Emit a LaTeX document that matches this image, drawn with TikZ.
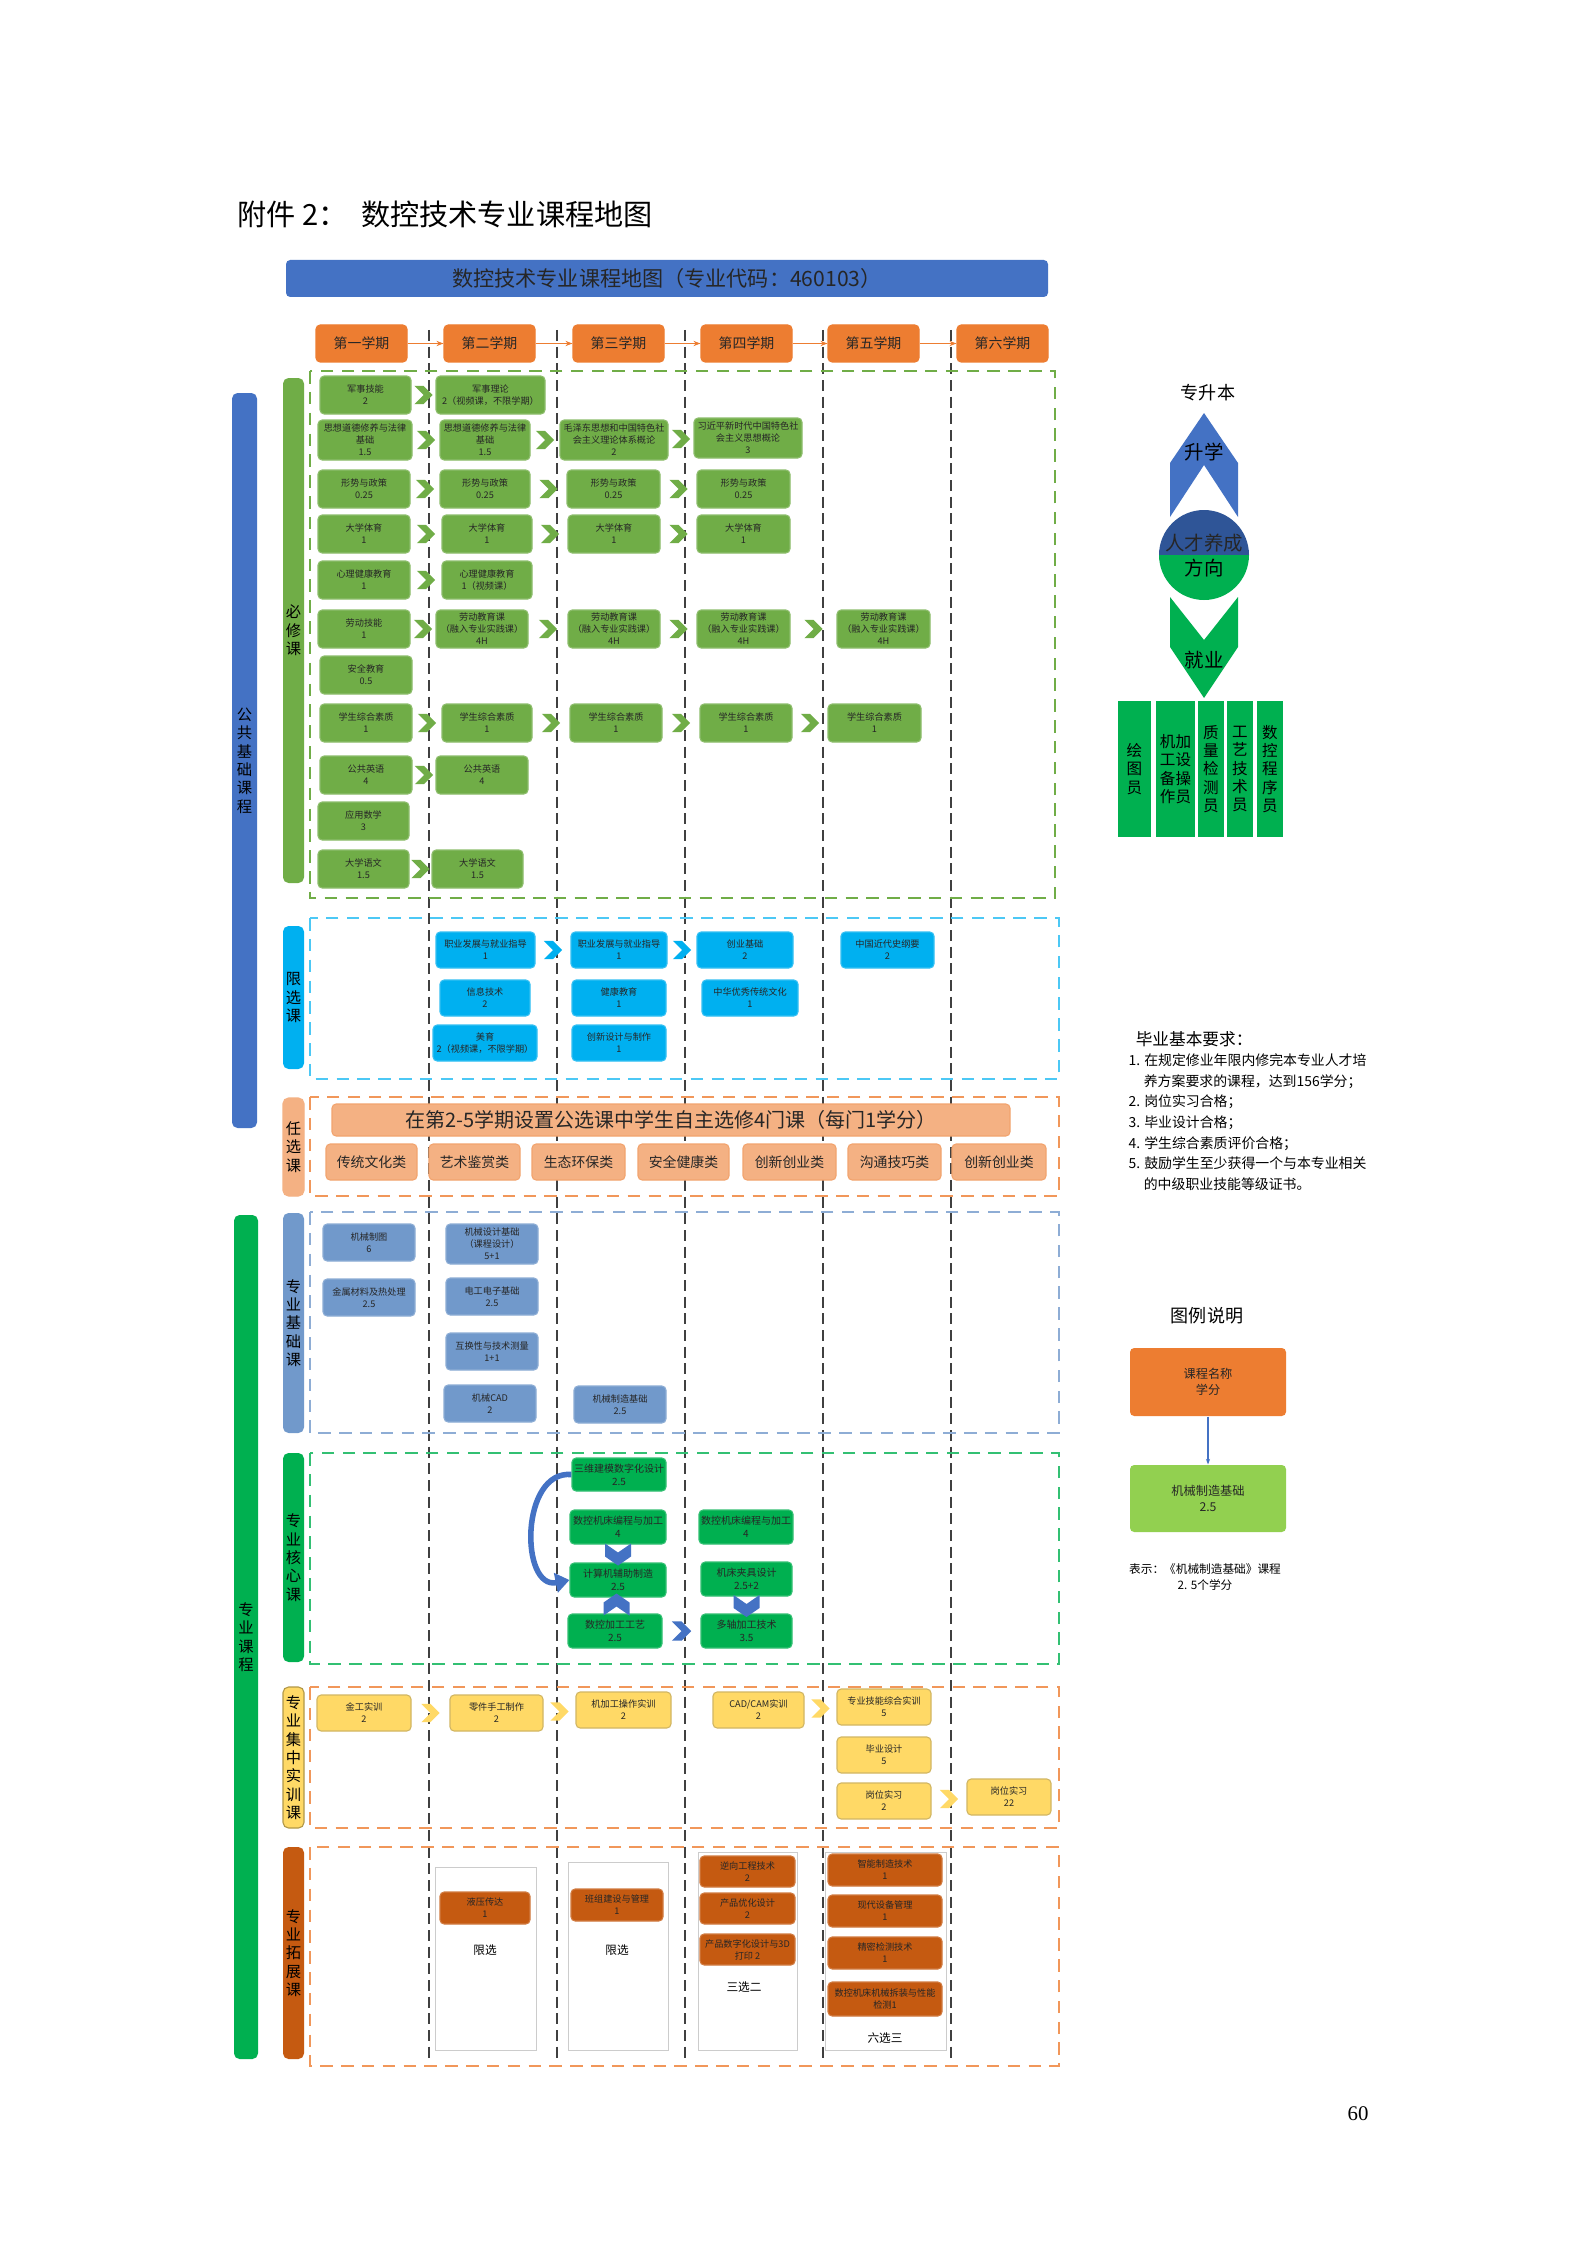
\documentclass[tikz,border=0pt]{standalone}
\usepackage{fontspec}
\setmainfont{Noto Sans CJK SC}
\newfontfamily\serif{Liberation Serif}
\usetikzlibrary{shapes.symbols,calc,arrows.meta}
\definecolor{gA}{HTML}{70AD47}
\definecolor{bA}{HTML}{00B0F0}
\definecolor{sA}{HTML}{7199CB}
\definecolor{cA}{HTML}{00B050}
\definecolor{yA}{HTML}{FFD966}
\definecolor{brA}{HTML}{C55A11}
\definecolor{saA}{HTML}{F4B183}
\definecolor{oA}{HTML}{ED7D31}
\definecolor{blA}{HTML}{4472C4}
\definecolor{lgA}{HTML}{92D050}
\definecolor{dbA}{HTML}{2F5597}
\newcommand\bx[7]{\node[#6, minimum width={(#4-#2)*0.36pt}, minimum height={(#5-#3)*0.36pt}] (#1) at ({(#2+#4)/2},{(#3+#5)/2}) {#7};}
\newcommand\chv[4]{\node[chevr, fill=#4] (#1) at ($(#2.east)!0.5!(#3.west)$) {};}
\tikzset{
 cbox/.style={rounded corners=1.5pt, inner sep=0pt, align=center, font=\fontsize{3.3}{4.3}\selectfont, text=black!85},
 gbox/.style={cbox, fill=gA, draw=gA!80!white},
 bbox/.style={cbox, fill=bA, draw=bA!80!white},
 sbox/.style={cbox, fill=sA, draw=sA!80!white},
 kbox/.style={cbox, fill=cA, draw=cA!80!white, font=\fontsize{3.6}{4.6}\selectfont},
 ybox/.style={cbox, fill=yA, draw=yA!80!black!90},
 rbox/.style={cbox, fill=brA, draw=brA!80!white},
 pbox/.style={cbox, fill=saA, draw=oA!70, font=\fontsize{5}{6}\selectfont},
 hbox/.style={cbox, fill=oA, draw=oA, font=\fontsize{5}{6}\selectfont},
 chevr/.style={signal, signal to=east, signal from=west, minimum width=5pt, minimum height=6.5pt, inner sep=0pt, draw=none},
 secbox/.style={dash pattern=on 4.5pt off 3pt, line width=0.6pt},
 vline/.style={dash pattern=on 4pt off 2pt, line width=0.6pt, black!75},
 catbar/.style={rounded corners=2pt, inner sep=0pt, align=center, font=\fontsize{5.5}{6.6}\selectfont},
 coreArr/.style={line width=2pt, blA, -{Triangle[length=5pt,width=7pt]}},
 jobbox/.style={fill=cA, inner sep=0pt, align=center, font=\fontsize{5.6}{6.6}\selectfont},
}
\begin{document}
\begin{tikzpicture}[x=0.36pt,y=-0.36pt]
\useasboundingbox[fill=white] (0,0) rectangle (1587,2245);
% title
\node[anchor=west, font=\fontsize{10.5}{12}\selectfont] (title) at (228,214) {附件 2：\ \ 数控技术专业课程地图};
\bx{banner}{286}{260}{1048}{297}{cbox, fill=blA, font=\fontsize{7.6}{9}\selectfont, text=black!85}{数控技术专业课程地图（专业代码：460103）}
% vertical dashed lines
\foreach \xx in {429,557,685,823,951} \draw[vline] (\xx,330) -- (\xx,2063);
% semesters
\bx{h1}{316}{325}{407}{362}{hbox}{第一学期}
\bx{h2}{444}{325}{535}{362}{hbox}{第二学期}
\bx{h3}{573}{325}{664}{362}{hbox}{第三学期}
\bx{h4}{701}{325}{792}{362}{hbox}{第四学期}
\bx{h5}{828}{325}{919}{362}{hbox}{第五学期}
\bx{h6}{957}{325}{1048}{362}{hbox}{第六学期}
\foreach \a/\b in {h1/h2,h2/h3,h3/h4,h4/h5,h5/h6} \draw[oA, line width=0.4pt, -{Stealth[length=2.5pt]}] (\a.east) -- (\b.west);
% section frames
\draw[secbox, gA] (310,371) rectangle (1055,898);
\draw[secbox, bA!70] (310,918) rectangle (1059,1079);
\draw[secbox, oA!80] (310,1097) rectangle (1059,1196);
\draw[secbox, sA!80] (310,1212) rectangle (1059,1433);
\draw[secbox, cA!80] (310,1453) rectangle (1059,1664);
\draw[secbox, oA!80] (310,1687) rectangle (1059,1828);
\draw[secbox, oA!80] (310,1847) rectangle (1059,2066);
% big left bars
\bx{pubbar}{232}{393}{257}{1128}{catbar, fill=blA}{公\\共\\基\\础\\课\\程}
\bx{probar}{234}{1215}{258}{2059}{catbar, fill=cA}{专\\业\\课\\程}
% category bars
\bx{k1}{283}{378}{304}{883}{catbar, fill=gA}{必\\修\\课}
\bx{k2}{283}{926}{304}{1069}{catbar, fill=bA}{限\\选\\课}
\bx{k3}{283}{1098}{304}{1196}{catbar, fill=saA, draw=oA!60}{任\\选\\课}
\bx{k4}{283}{1213}{304}{1433}{catbar, fill=sA}{专\\业\\基\\础\\课}
\bx{k5}{283}{1453}{304}{1662}{catbar, fill=cA}{专\\业\\核\\心\\课}
\bx{k6}{283}{1687}{304}{1828}{catbar, fill=yA, draw=yA!70!black}{专\\业\\集\\中\\实\\训\\课}
\bx{k7}{283}{1847}{304}{2059}{catbar, fill=brA}{专\\业\\拓\\展\\课}
% ===== 必修课 =====
\bx{a1}{320}{376}{411}{414}{gbox}{军事技能\\2}
\bx{a2}{436}{376}{545}{414}{gbox}{军事理论\\2（视频课，不限学期）}
\chv{ca1}{a1}{a2}{gA}
\bx{b1}{318}{420}{412}{460}{gbox}{思想道德修养与法律\\基础\\1.5}
\bx{b2}{440}{420}{530}{460}{gbox}{思想道德修养与法律\\基础\\1.5}
\bx{b3}{560}{420}{668}{460}{gbox}{毛泽东思想和中国特色社\\会主义理论体系概论\\2}
\bx{b4}{694}{418}{802}{458}{gbox}{习近平新时代中国特色社\\会主义思想概论\\3}
\chv{cb1}{b1}{b2}{gA}\chv{cb2}{b2}{b3}{gA}\chv{cb3}{b3}{b4}{gA}
\bx{d1}{318}{470}{410}{508}{gbox}{形势与政策\\0.25}
\bx{d2}{440}{470}{530}{508}{gbox}{形势与政策\\0.25}
\bx{d3}{567}{470}{660}{508}{gbox}{形势与政策\\0.25}
\bx{d4}{697}{470}{790}{508}{gbox}{形势与政策\\0.25}
\chv{cd1}{d1}{d2}{gA}\chv{cd2}{d2}{d3}{gA}\chv{cd3}{d3}{d4}{gA}
\bx{e1}{318}{515}{410}{553}{gbox}{大学体育\\1}
\bx{e2}{442}{515}{532}{553}{gbox}{大学体育\\1}
\bx{e3}{568}{515}{660}{553}{gbox}{大学体育\\1}
\bx{e4}{697}{515}{790}{553}{gbox}{大学体育\\1}
\chv{ce1}{e1}{e2}{gA}\chv{ce2}{e2}{e3}{gA}\chv{ce3}{e3}{e4}{gA}
\bx{f1}{318}{561}{410}{599}{gbox}{心理健康教育\\1}
\bx{f2}{442}{561}{532}{599}{gbox}{心理健康教育\\1（视频课）}
\chv{cf1}{f1}{f2}{gA}
\bx{g1}{318}{610}{410}{648}{gbox}{劳动技能\\1}
\bx{g2}{436}{610}{528}{648}{gbox}{劳动教育课\\（融入专业实践课）\\4H}
\bx{g3}{568}{610}{660}{648}{gbox}{劳动教育课\\（融入专业实践课）\\4H}
\bx{g4}{697}{610}{790}{648}{gbox}{劳动教育课\\（融入专业实践课）\\4H}
\bx{g5}{837}{610}{930}{648}{gbox}{劳动教育课\\（融入专业实践课）\\4H}
\chv{cg1}{g1}{g2}{gA}\chv{cg2}{g2}{g3}{gA}\chv{cg3}{g3}{g4}{gA}\chv{cg4}{g4}{g5}{gA}
\bx{s1}{320}{656}{412}{694}{gbox}{安全教育\\0.5}
\bx{m1}{320}{704}{412}{742}{gbox}{学生综合素质\\1}
\bx{m2}{442}{704}{532}{742}{gbox}{学生综合素质\\1}
\bx{m3}{570}{704}{662}{742}{gbox}{学生综合素质\\1}
\bx{m4}{700}{704}{792}{742}{gbox}{学生综合素质\\1}
\bx{m5}{828}{704}{921}{742}{gbox}{学生综合素质\\1}
\chv{cm1}{m1}{m2}{gA}\chv{cm2}{m2}{m3}{gA}\chv{cm3}{m3}{m4}{gA}\chv{cm4}{m4}{m5}{gA}
\bx{n1}{320}{756}{412}{794}{gbox}{公共英语\\4}
\bx{n2}{436}{756}{528}{794}{gbox}{公共英语\\4}
\chv{cn1}{n1}{n2}{gA}
\bx{p1}{318}{802}{409}{840}{gbox}{应用数学\\3}
\bx{q1}{318}{850}{409}{888}{gbox}{大学语文\\1.5}
\bx{q2}{432}{850}{523}{888}{gbox}{大学语文\\1.5}
\chv{cq1}{q1}{q2}{gA}
% ===== 限选课 =====
\bx{x1}{436}{932}{535}{968}{bbox}{职业发展与就业指导\\1}
\bx{x2}{440}{980}{530}{1016}{bbox}{信息技术\\2}
\bx{x3}{433}{1025}{537}{1061}{bbox}{美育\\2（视频课，不限学期）}
\bx{y1}{571}{932}{667}{968}{bbox}{职业发展与就业指导\\1}
\bx{y2}{572}{980}{666}{1016}{bbox}{健康教育\\1}
\bx{y3}{572}{1025}{666}{1061}{bbox}{创新设计与制作\\1}
\bx{z1}{697}{932}{793}{968}{bbox}{创业基础\\2}
\bx{z2}{702}{980}{798}{1016}{bbox}{中华优秀传统文化\\1}
\bx{w1}{841}{932}{934}{968}{bbox}{中国近代史纲要\\2}
\chv{cx1}{x1}{y1}{bA}\chv{cy1}{y1}{z1}{bA}
% ===== 任选课 =====
\bx{rx}{332}{1104}{1010}{1136}{pbox, font=\fontsize{7.2}{8}\selectfont}{在第2-5学期设置公选课中学生自主选修4门课（每门1学分）}
\bx{r1}{326}{1144}{417}{1180}{pbox}{传统文化类}
\bx{r2}{429}{1144}{520}{1180}{pbox}{艺术鉴赏类}
\bx{r3}{532}{1144}{625}{1180}{pbox}{生态环保类}
\bx{r4}{638}{1144}{729}{1180}{pbox}{安全健康类}
\bx{r5}{743}{1144}{836}{1180}{pbox}{创新创业类}
\bx{r6}{848}{1144}{941}{1180}{pbox}{沟通技巧类}
\bx{r7}{952}{1144}{1046}{1180}{pbox}{创新创业类}
% ===== 专业基础课 =====
\bx{t1}{323}{1224}{415}{1261}{sbox}{机械制图\\6}
\bx{t2}{323}{1279}{415}{1316}{sbox}{金属材料及热处理\\2.5}
\bx{u1}{446}{1224}{538}{1264}{sbox}{机械设计基础\\（课程设计）\\5+1}
\bx{u2}{446}{1278}{538}{1315}{sbox}{电工电子基础\\2.5}
\bx{u3}{446}{1333}{538}{1370}{sbox}{互换性与技术测量\\1+1}
\bx{u4}{444}{1385}{536}{1422}{sbox}{机械CAD\\2}
\bx{v1}{574}{1386}{666}{1423}{sbox}{机械制造基础\\2.5}
% ===== 专业核心课 =====
\bx{o1}{572}{1458}{666}{1491}{kbox}{三维建模数字化设计\\2.5}
\bx{o2}{570}{1510}{666}{1544}{kbox}{数控机床编程与加工\\4}
\bx{o3}{570}{1563}{666}{1597}{kbox}{计算机辅助制造\\2.5}
\bx{o4}{568}{1614}{662}{1648}{kbox}{数控加工工艺\\2.5}
\bx{o5}{699}{1510}{793}{1544}{kbox}{数控机床编程与加工\\4}
\bx{o6}{701}{1562}{792}{1596}{kbox}{机床夹具设计\\2.5+2}
\bx{o7}{701}{1614}{792}{1648}{kbox}{多轴加工技术\\3.5}
\draw[coreArr] (o1.west) .. controls (520,1470) and (520,1590) .. (o3.west);
\coordinate (co1) at ($(o2.south)!0.5!(o3.north)$);
\coordinate (co2) at ($(o4.north)!0.5!(o3.south)$);
\coordinate (co3) at ($(o6.south)!0.5!(o7.north)$);
\fill[blA, shift={(co1)}] (-13,-10) -- (0,-1) -- (13,-10) -- (13,3) -- (0,12) -- (-13,3) -- cycle;
\fill[blA, shift={(co3)}] (-13,-10) -- (0,-1) -- (13,-10) -- (13,3) -- (0,12) -- (-13,3) -- cycle;
\fill[blA, shift={(co2)}] (-13,10) -- (0,1) -- (13,10) -- (13,-3) -- (0,-12) -- (-13,-3) -- cycle;
\node[chevr, fill=blA, minimum width=7pt, minimum height=7pt] (co4) at ($(o4.east)!0.5!(o7.west)$) {};
% ===== 集中实训 =====
\bx{j1}{317}{1695}{411}{1731}{ybox}{金工实训\\2}
\bx{j2}{450}{1695}{543}{1731}{ybox}{零件手工制作\\2}
\bx{j3}{576}{1692}{671}{1728}{ybox}{机加工操作实训\\2}
\bx{j4}{713}{1692}{804}{1728}{ybox}{CAD/CAM实训\\2}
\bx{j5}{837}{1689}{931}{1725}{ybox}{专业技能综合实训\\5}
\bx{j6}{837}{1737}{931}{1773}{ybox}{毕业设计\\5}
\bx{j7}{837}{1783}{931}{1819}{ybox}{岗位实习\\2}
\bx{j8}{967}{1779}{1051}{1815}{ybox}{岗位实习\\22}
\chv{cj1}{j1}{j2}{yA}\chv{cj2}{j2}{j3}{yA}\chv{cj3}{j4}{j5}{yA}\chv{cj4}{j7}{j8}{yA}
% ===== 拓展 =====
\draw[black!20, line width=0.3pt] (435,1867) rectangle (536,2050);
\draw[black!20, line width=0.3pt] (568,1862) rectangle (668,2050);
\draw[black!20, line width=0.3pt] (698,1852) rectangle (797,2050);
\draw[black!20, line width=0.3pt] (825,1852) rectangle (946,2050);
\bx{e21}{440}{1892}{530}{1924}{rbox}{液压传达\\1}
\node[font=\fontsize{4.2}{5}\selectfont] (e22) at (485,1950) {限选};
\bx{e31}{571}{1889}{663}{1921}{rbox}{班组建设与管理\\1}
\node[font=\fontsize{4.2}{5}\selectfont] (e32) at (617,1950) {限选};
\bx{e41}{700}{1856}{795}{1887}{rbox}{逆向工程技术\\2}
\bx{e42}{700}{1893}{795}{1924}{rbox}{产品优化设计\\2}
\bx{e43}{700}{1934}{795}{1965}{rbox}{产品数字化设计与3D\\打印 2}
\node[font=\fontsize{4.2}{5}\selectfont] (e44) at (744,1987) {三选二};
\bx{e51}{828}{1854}{942}{1886}{rbox}{智能制造技术\\1}
\bx{e52}{828}{1895}{942}{1927}{rbox}{现代设备管理\\1}
\bx{e53}{828}{1937}{942}{1969}{rbox}{精密检测技术\\1}
\bx{e54}{828}{1982}{942}{2016}{rbox}{数控机床机械拆装与性能\\检测1}
\node[font=\fontsize{4.2}{5}\selectfont] (e55) at (885,2038) {六选三};
% ===== right: direction =====
\node[font=\fontsize{6.5}{7.5}\selectfont] (zsb) at (1208,393) {专升本};
\fill[blA] (1204,413) -- (1238,463) -- (1238,517) -- (1204,465) -- (1170,517) -- (1170,463) -- cycle;
\node[font=\fontsize{7}{8}\selectfont] (sx) at (1204,452) {升学};
\fill[dbA] (1159,555) arc[start angle=180,end angle=360,radius=45] -- cycle;
\fill[cA] (1159,555) arc[start angle=180,end angle=0,radius=45] -- cycle;
\node[font=\fontsize{7}{8}\selectfont, text=black!85] (rc1) at (1204,543) {人才养成};
\node[font=\fontsize{7}{8}\selectfont] (rc2) at (1204,568) {方向};
\fill[cA] (1170,597) -- (1204,640) -- (1238,597) -- (1238,647) -- (1204,698) -- (1170,647) -- cycle;
\node[font=\fontsize{7}{8}\selectfont] (jy) at (1204,660) {就业};
\bx{jb1}{1118}{701}{1151}{837}{jobbox}{绘\\图\\员}
\bx{jb2}{1156}{701}{1195}{837}{jobbox}{机加\\工设\\备操\\作员}
\bx{jb3}{1198}{701}{1224}{837}{jobbox}{质\\量\\检\\测\\员}
\bx{jb4}{1227}{701}{1253}{837}{jobbox}{工\\艺\\技\\术\\员}
\bx{jb5}{1257}{701}{1283}{837}{jobbox}{数\\控\\程\\序\\员}
% ===== requirements =====
\node[anchor=west, font=\fontsize{6}{7}\selectfont] (req) at (1126,1039) {毕业基本要求：};
\node[anchor=north west, align=left, inner sep=0pt, font=\fontsize{5}{7.45}\selectfont] (reqt) at (1128,1053) {1. 在规定修业年限内修完本专业人才培\\\hspace*{1.1em}养方案要求的课程，达到156学分；\\2. 岗位实习合格；\\3. 毕业设计合格；\\4. 学生综合素质评价合格；\\5. 鼓励学生至少获得一个与本专业相关\\\hspace*{1.1em}的中级职业技能等级证书。};
% ===== legend =====
\node[font=\fontsize{6.5}{7.5}\selectfont] (lgt) at (1207,1316) {图例说明};
\bx{lg1}{1130}{1348}{1286}{1416}{cbox, fill=oA, font=\fontsize{4.4}{6}\selectfont}{课程名称\\学分}
\bx{lg2}{1130}{1465}{1286}{1532}{cbox, fill=lgA, font=\fontsize{4.4}{6}\selectfont}{机械制造基础\\2.5}
\draw[blA, line width=0.4pt, -{Stealth[length=2pt]}] (lg1.south) -- (lg2.north);
\node[font=\fontsize{4.2}{5.8}\selectfont, align=center] (lgn) at (1205,1577) {表示：《机械制造基础》课程\\2. 5个学分};
\node[font=\serif\fontsize{7.5}{9}\selectfont] (pg) at (1358,2114) {60};
\end{tikzpicture}
\end{document}
